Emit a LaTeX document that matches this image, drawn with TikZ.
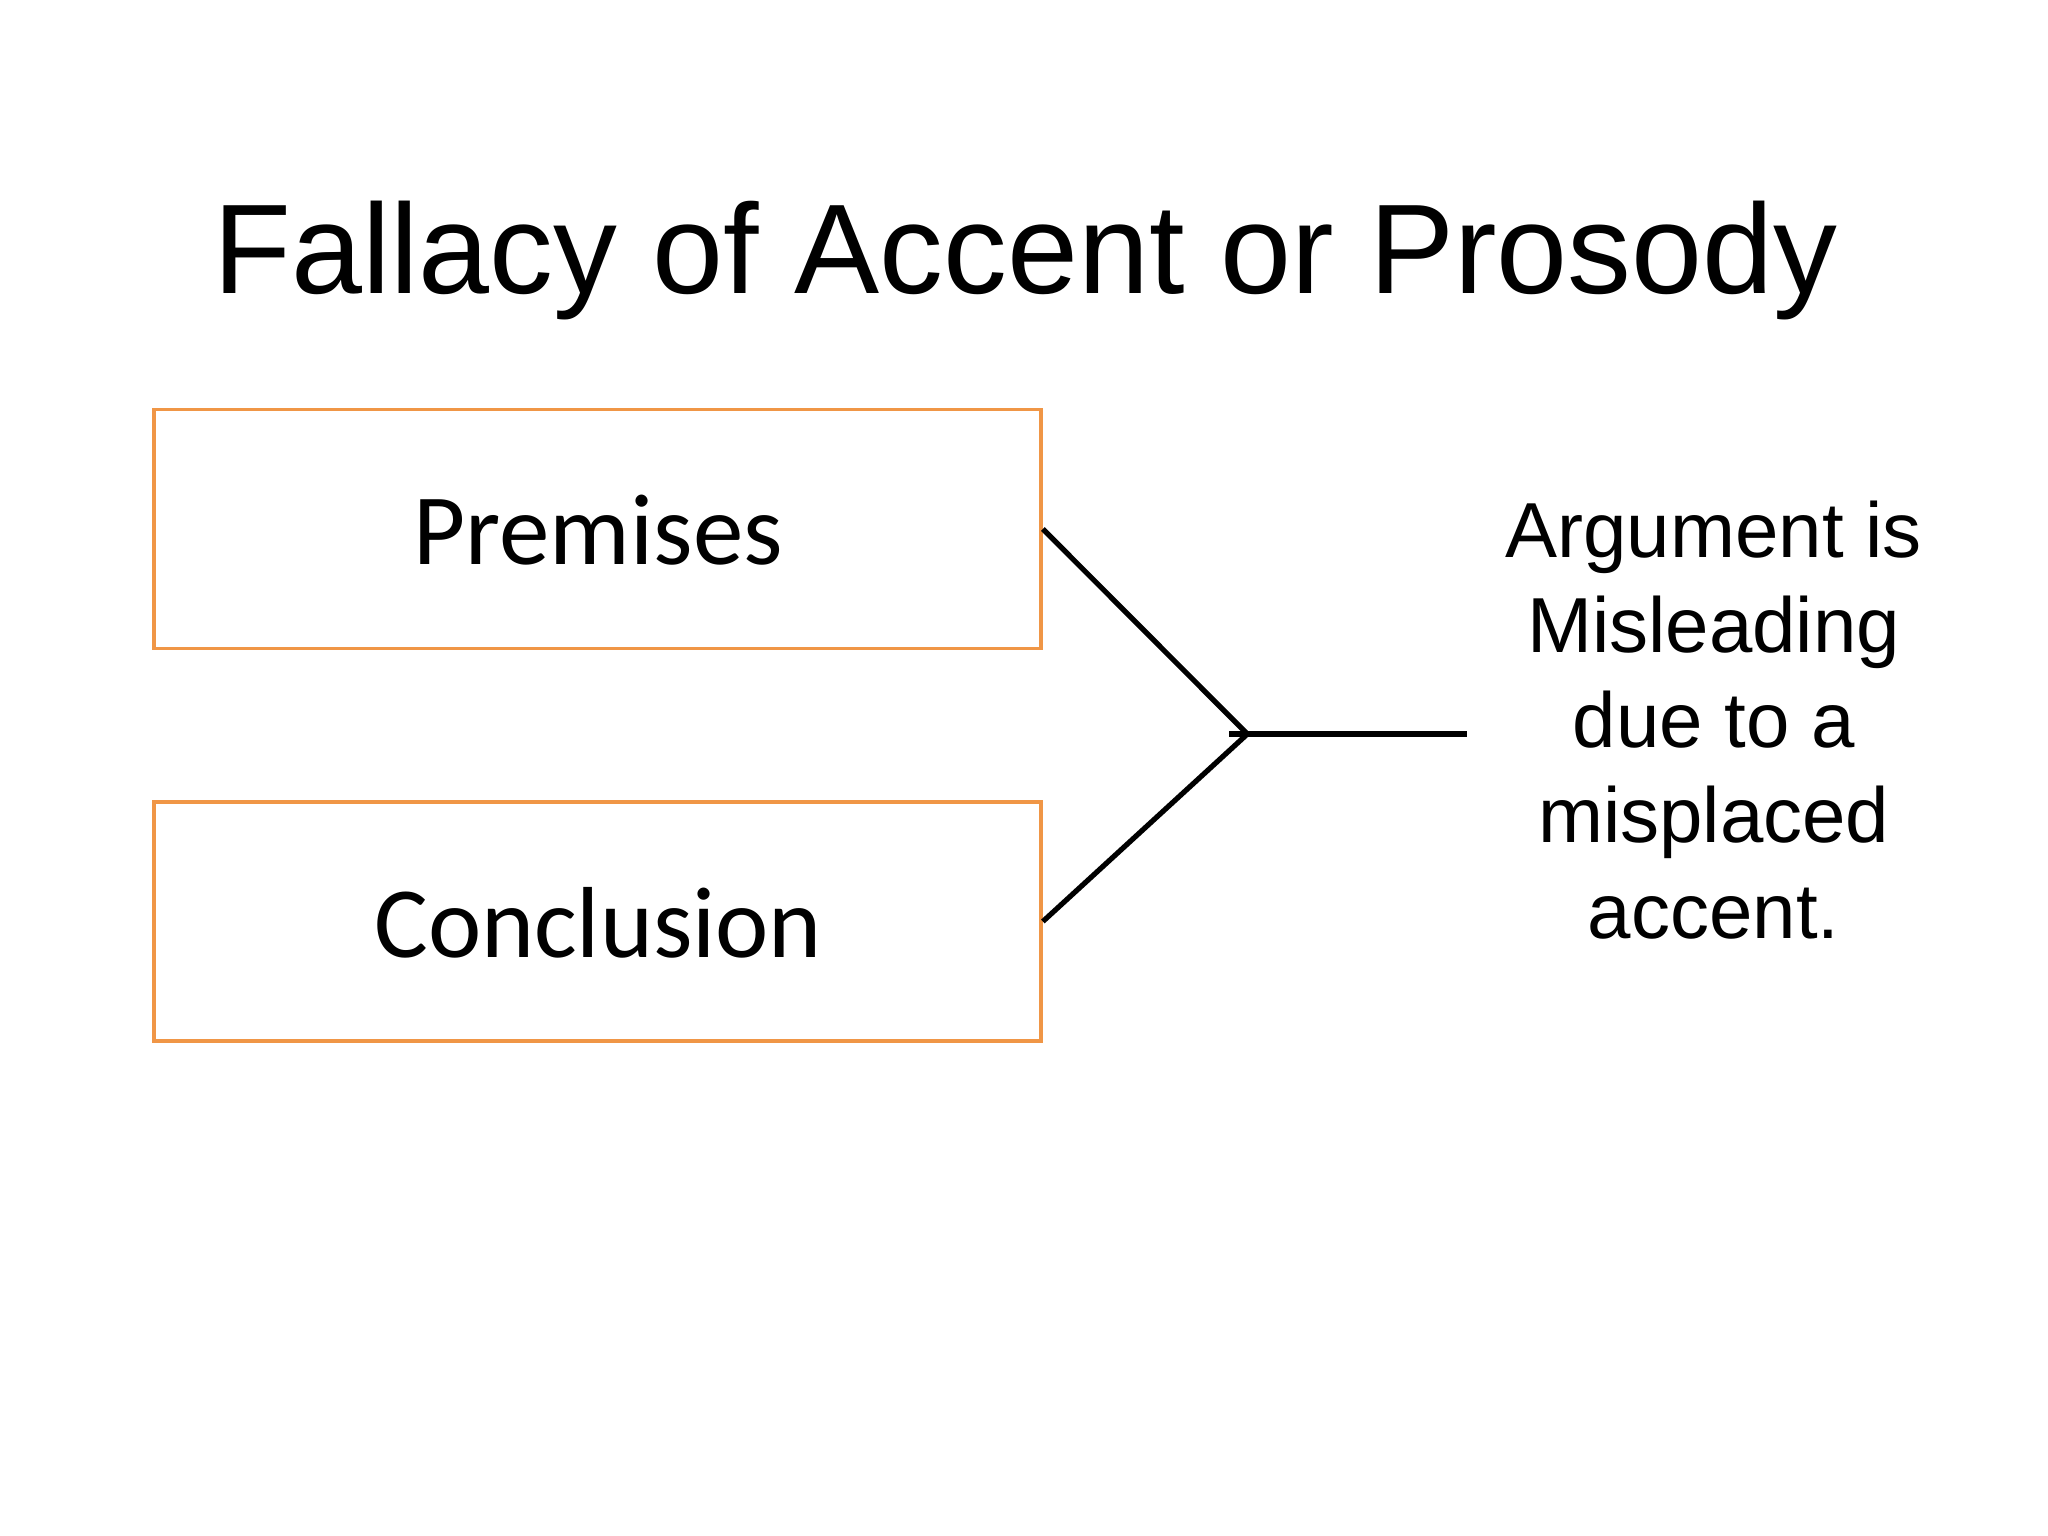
\documentclass[tikz,border=0pt]{standalone}
\usepackage{fontspec}
\setmainfont{Liberation Sans}
\newfontfamily\calib{Carlito}
\begin{document}
\begin{tikzpicture}[x=0.02cm,y=-0.02cm]
\definecolor{boxorange}{RGB}{240,150,70}
\tikzset{
  box/.style={draw=boxorange,line width=0.06cm,minimum width=13.58cm,minimum height=3.66cm,inner sep=0pt,font=\calib\fontsize{44}{50}\selectfont},
  conn/.style={line width=0.08cm,black}
}
\useasboundingbox (0,0) rectangle (1568,1176);
\node[anchor=base,font=\fontsize{55.6}{60}\selectfont] (title) at (785,225) {Fallacy of Accent or Prosody};
\node[box] (prem) at (457.5,405) {};
\node[anchor=base,font=\calib\fontsize{44}{50}\selectfont] (premt) at (458,432) {Premises};
\node[box] (conc) at (457.5,705.5) {};
\node[anchor=base,font=\calib\fontsize{44}{50}\selectfont] (conct) at (458,733) {Conclusion};
\node[anchor=north,align=center,font=\fontsize{34}{41.5}\selectfont,inner sep=0pt] (arg) at (1312,383) {Argument is\\Misleading\\due to a\\misplaced\\accent.};
\coordinate (j) at (955,562);
\coordinate (t) at (941,562);
\coordinate (e) at (1123,562);
\draw[conn] (prem.east) -- (j);
\draw[conn] (conc.east) -- (j);
\draw[conn] (t) -- (e);
\end{tikzpicture}
\end{document}
